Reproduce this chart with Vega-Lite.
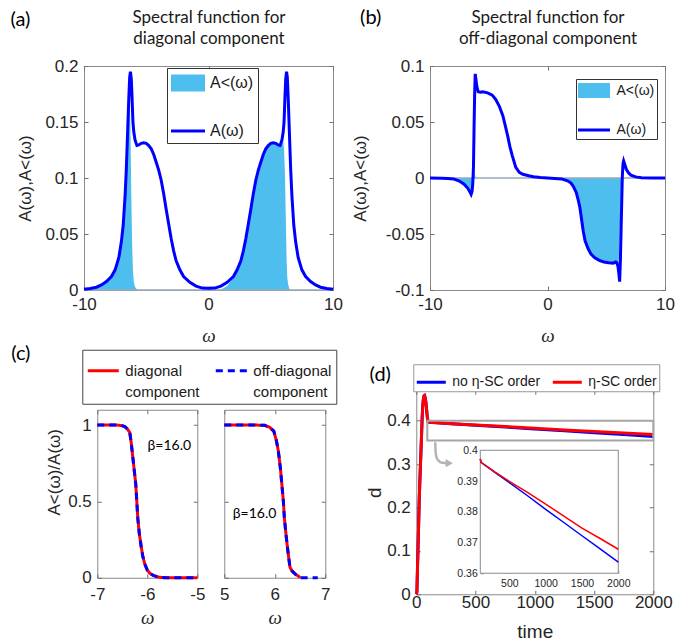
{
"$schema": "https://vega.github.io/schema/vega-lite/v6.json",
"padding": {"left": 10, "top": 7, "right": 0, "bottom": 0},
"background": "white",
"config": {
  "view": {"stroke": "#8a8a8a", "strokeWidth": 1},
  "axis": {"domain": false, "grid": false, "tickColor": "#707070", "tickSize": -4, "tickWidth": 1, "labelFont": "Liberation Sans", "labelFontSize": 17, "labelColor": "#262626", "labelPadding": 10, "labelFlush": false, "titleFont": "Liberation Sans", "titleFontSize": 17, "titleFontWeight": "normal", "titleColor": "#262626"},
  "legend": {"labelFont": "Liberation Sans", "labelColor": "#1a1a1a"},
  "style": {"guide-label": {"lineHeight": 21}}
},
"datasets": {
"sa": [
{"w":-10,"A":0.0006,"Al":0.0006},{"w":-9.5,"A":0.0013,"Al":0.0013},{"w":-9,"A":0.0025,"Al":0.0025},{"w":-8.6,"A":0.0045,"Al":0.0045},{"w":-8.2,"A":0.0075,"Al":0.0075},{"w":-7.8,"A":0.012,"Al":0.012},{"w":-7.5,"A":0.018,"Al":0.018},{"w":-7.2,"A":0.029,"Al":0.029},{"w":-7,"A":0.043,"Al":0.043},{"w":-6.85,"A":0.058,"Al":0.058},{"w":-6.7,"A":0.084,"Al":0.084},{"w":-6.6,"A":0.108,"Al":0.108},{"w":-6.5,"A":0.14,"Al":0.139},{"w":-6.4,"A":0.172,"Al":0.169},{"w":-6.33,"A":0.19,"Al":0.171},{"w":-6.27,"A":0.195,"Al":0.144},{"w":-6.2,"A":0.188,"Al":0.085},{"w":-6.14,"A":0.172,"Al":0.043},{"w":-6.07,"A":0.15,"Al":0.018},{"w":-6,"A":0.141,"Al":0.007},{"w":-5.9,"A":0.134,"Al":0.0027},{"w":-5.75,"A":0.129,"Al":0.0006},{"w":-5.6,"A":0.1295,"Al":0},{"w":-5.4,"A":0.131,"Al":0},{"w":-5.2,"A":0.1315,"Al":0},{"w":-5,"A":0.131,"Al":0},{"w":-4.8,"A":0.129,"Al":0},{"w":-4.6,"A":0.126,"Al":0},{"w":-4.4,"A":0.121,"Al":0},{"w":-4.2,"A":0.114,"Al":0},{"w":-4,"A":0.107,"Al":0},{"w":-3.8,"A":0.098,"Al":0},{"w":-3.6,"A":0.086,"Al":0},{"w":-3.4,"A":0.072,"Al":0},{"w":-3.2,"A":0.059,"Al":0},{"w":-3,"A":0.046,"Al":0},{"w":-2.8,"A":0.035,"Al":0},{"w":-2.6,"A":0.026,"Al":0},{"w":-2.3,"A":0.018,"Al":0},{"w":-2,"A":0.012,"Al":0},{"w":-1.5,"A":0.0068,"Al":0},{"w":-1,"A":0.0035,"Al":0},{"w":-0.5,"A":0.0017,"Al":0},{"w":0,"A":0.0015,"Al":0},{"w":0.5,"A":0.0017,"Al":0},{"w":1,"A":0.0035,"Al":0.0005},{"w":1.5,"A":0.0068,"Al":0.0035},{"w":2,"A":0.012,"Al":0.011},{"w":2.3,"A":0.018,"Al":0.018},{"w":2.6,"A":0.026,"Al":0.026},{"w":2.8,"A":0.035,"Al":0.035},{"w":3,"A":0.046,"Al":0.046},{"w":3.2,"A":0.059,"Al":0.059},{"w":3.4,"A":0.072,"Al":0.072},{"w":3.6,"A":0.086,"Al":0.086},{"w":3.8,"A":0.098,"Al":0.098},{"w":4,"A":0.107,"Al":0.107},{"w":4.2,"A":0.114,"Al":0.114},{"w":4.4,"A":0.121,"Al":0.121},{"w":4.6,"A":0.126,"Al":0.126},{"w":4.8,"A":0.129,"Al":0.129},{"w":5,"A":0.131,"Al":0.131},{"w":5.2,"A":0.1315,"Al":0.1315},{"w":5.4,"A":0.131,"Al":0.131},{"w":5.6,"A":0.1295,"Al":0.1295},{"w":5.75,"A":0.129,"Al":0.129},{"w":5.9,"A":0.134,"Al":0.131},{"w":6,"A":0.141,"Al":0.134},{"w":6.07,"A":0.15,"Al":0.125},{"w":6.14,"A":0.172,"Al":0.105},{"w":6.2,"A":0.188,"Al":0.07},{"w":6.27,"A":0.195,"Al":0.029},{"w":6.33,"A":0.19,"Al":0.011},{"w":6.4,"A":0.172,"Al":0.005},{"w":6.5,"A":0.14,"Al":0.001},{"w":6.6,"A":0.108,"Al":0},{"w":6.7,"A":0.084,"Al":0},{"w":6.85,"A":0.058,"Al":0},{"w":7,"A":0.043,"Al":0},{"w":7.2,"A":0.029,"Al":0},{"w":7.5,"A":0.018,"Al":0},{"w":7.8,"A":0.012,"Al":0},{"w":8.2,"A":0.0075,"Al":0},{"w":8.6,"A":0.0045,"Al":0},{"w":9,"A":0.0025,"Al":0},{"w":9.5,"A":0.0013,"Al":0},{"w":10,"A":0.0006,"Al":0}
],
"sb": [
{"w":-10,"A":0,"Al":0},{"w":-9,"A":-0.0002,"Al":-0.0002},{"w":-8.5,"A":-0.0004,"Al":-0.0004},{"w":-8,"A":-0.0008,"Al":-0.0008},{"w":-7.5,"A":-0.0027,"Al":-0.0027},{"w":-7.1,"A":-0.0055,"Al":-0.0055},{"w":-6.8,"A":-0.009,"Al":-0.009},{"w":-6.6,"A":-0.0125,"Al":-0.0125},{"w":-6.5,"A":-0.0146,"Al":-0.0146},{"w":-6.42,"A":-0.012,"Al":-0.012},{"w":-6.36,"A":-0.005,"Al":-0.0048},{"w":-6.3,"A":0.01,"Al":0.004},{"w":-6.25,"A":0.045,"Al":0.007},{"w":-6.2,"A":0.075,"Al":0.005},{"w":-6.15,"A":0.093,"Al":0.002},{"w":-6.1,"A":0.089,"Al":0},{"w":-6.02,"A":0.082,"Al":0},{"w":-5.9,"A":0.077,"Al":0},{"w":-5.7,"A":0.0765,"Al":0},{"w":-5.5,"A":0.077,"Al":0},{"w":-5.1,"A":0.076,"Al":0},{"w":-4.7,"A":0.074,"Al":0},{"w":-4.4,"A":0.07,"Al":0},{"w":-4.1,"A":0.064,"Al":0},{"w":-3.8,"A":0.0557,"Al":0},{"w":-3.6,"A":0.047,"Al":0},{"w":-3.4,"A":0.038,"Al":0},{"w":-3.2,"A":0.028,"Al":0},{"w":-3,"A":0.02,"Al":0},{"w":-2.7,"A":0.0095,"Al":0},{"w":-2.4,"A":0.005,"Al":0},{"w":-2.1,"A":0.0033,"Al":0},{"w":-1.6,"A":0.002,"Al":0},{"w":-1.2,"A":0.0012,"Al":0},{"w":-0.6,"A":0.0005,"Al":0},{"w":0,"A":0,"Al":0},{"w":0.6,"A":-0.0004,"Al":0},{"w":1.2,"A":-0.0008,"Al":-0.0002},{"w":1.7,"A":-0.0025,"Al":-0.002},{"w":2,"A":-0.0045,"Al":-0.0045},{"w":2.2,"A":-0.0075,"Al":-0.0075},{"w":2.45,"A":-0.013,"Al":-0.013},{"w":2.6,"A":-0.019,"Al":-0.019},{"w":2.75,"A":-0.026,"Al":-0.026},{"w":2.9,"A":-0.037,"Al":-0.037},{"w":3.05,"A":-0.048,"Al":-0.048},{"w":3.2,"A":-0.056,"Al":-0.056},{"w":3.45,"A":-0.063,"Al":-0.063},{"w":3.7,"A":-0.068,"Al":-0.068},{"w":4,"A":-0.071,"Al":-0.071},{"w":4.4,"A":-0.0735,"Al":-0.0735},{"w":4.8,"A":-0.075,"Al":-0.075},{"w":5.2,"A":-0.0757,"Al":-0.0757},{"w":5.6,"A":-0.076,"Al":-0.076},{"w":5.8,"A":-0.075,"Al":-0.075},{"w":5.9,"A":-0.0755,"Al":-0.0755},{"w":6,"A":-0.079,"Al":-0.079},{"w":6.07,"A":-0.085,"Al":-0.072},{"w":6.14,"A":-0.0925,"Al":-0.055},{"w":6.2,"A":-0.075,"Al":-0.03},{"w":6.26,"A":-0.048,"Al":-0.009},{"w":6.32,"A":-0.02,"Al":-0.002},{"w":6.37,"A":0.002,"Al":0},{"w":6.43,"A":0.013,"Al":0},{"w":6.48,"A":0.0153,"Al":0},{"w":6.55,"A":0.013,"Al":0},{"w":6.7,"A":0.008,"Al":0},{"w":6.9,"A":0.0045,"Al":0},{"w":7.1,"A":0.0025,"Al":0},{"w":7.5,"A":0.001,"Al":0},{"w":8,"A":0.0003,"Al":0},{"w":9,"A":0,"Al":0},{"w":10,"A":0,"Al":0}
],
"cl": [
{"w":-7,"diag":1,"off":1},{"w":-6.8,"diag":1,"off":1},{"w":-6.6,"diag":1,"off":1},{"w":-6.5,"diag":0.995,"off":0.995},{"w":-6.45,"diag":0.99,"off":0.99},{"w":-6.4,"diag":0.975,"off":0.975},{"w":-6.35,"diag":0.95,"off":0.95},{"w":-6.32,"diag":0.88,"off":0.88},{"w":-6.29,"diag":0.79,"off":0.79},{"w":-6.26,"diag":0.7,"off":0.7},{"w":-6.23,"diag":0.61,"off":0.61},{"w":-6.21,"diag":0.5,"off":0.5},{"w":-6.19,"diag":0.39,"off":0.39},{"w":-6.16,"diag":0.29,"off":0.29},{"w":-6.12,"diag":0.2,"off":0.2},{"w":-6.09,"diag":0.14,"off":0.14},{"w":-6.05,"diag":0.09,"off":0.09},{"w":-6,"diag":0.05,"off":0.05},{"w":-5.95,"diag":0.03,"off":0.03},{"w":-5.88,"diag":0.015,"off":0.015},{"w":-5.79,"diag":0.005,"off":0.005},{"w":-5.7,"diag":0.001,"off":0.001},{"w":-5.6,"diag":0,"off":0},{"w":-5.4,"diag":0,"off":0},{"w":-5.2,"diag":0,"off":0},{"w":-5,"diag":0,"off":0}
],
"cr": [
{"w":5,"diag":1,"off":1},{"w":5.3,"diag":1,"off":1},{"w":5.6,"diag":1,"off":1},{"w":5.8,"diag":0.998,"off":0.998},{"w":5.9,"diag":0.985,"off":0.985},{"w":5.98,"diag":0.96,"off":0.96},{"w":6.03,"diag":0.9,"off":0.9},{"w":6.07,"diag":0.83,"off":0.83},{"w":6.11,"diag":0.72,"off":0.72},{"w":6.14,"diag":0.61,"off":0.61},{"w":6.17,"diag":0.5,"off":0.5},{"w":6.19,"diag":0.39,"off":0.39},{"w":6.22,"diag":0.29,"off":0.29},{"w":6.25,"diag":0.2,"off":0.2},{"w":6.28,"diag":0.12,"off":0.12},{"w":6.3,"diag":0.07,"off":0.07},{"w":6.34,"diag":0.045,"off":0.045},{"w":6.37,"diag":0.035,"off":0.035},{"w":6.42,"diag":0.02,"off":0.02},{"w":6.47,"diag":0.01,"off":0.01},{"w":6.5,"diag":0,"off":0},{"w":6.6,"off":0},{"w":6.7,"off":0},{"w":6.85,"off":0}
],
"sd": [
{"t":0,"v":0,"s":"no η-SC order"},{"t":5,"v":0.005,"s":"no η-SC order"},{"t":10,"v":0.06,"s":"no η-SC order"},{"t":15,"v":0.11,"s":"no η-SC order"},{"t":20,"v":0.165,"s":"no η-SC order"},{"t":25,"v":0.219,"s":"no η-SC order"},{"t":30,"v":0.26,"s":"no η-SC order"},{"t":40,"v":0.334,"s":"no η-SC order"},{"t":50,"v":0.41,"s":"no η-SC order"},{"t":55,"v":0.435,"s":"no η-SC order"},{"t":60,"v":0.45,"s":"no η-SC order"},{"t":65,"v":0.457,"s":"no η-SC order"},{"t":70,"v":0.458,"s":"no η-SC order"},{"t":75,"v":0.452,"s":"no η-SC order"},{"t":80,"v":0.444,"s":"no η-SC order"},{"t":85,"v":0.432,"s":"no η-SC order"},{"t":90,"v":0.416,"s":"no η-SC order"},{"t":95,"v":0.404,"s":"no η-SC order"},{"t":100,"v":0.3972,"s":"no η-SC order"},{"t":110,"v":0.3961,"s":"no η-SC order"},{"t":300,"v":0.3928,"s":"no η-SC order"},{"t":500,"v":0.3895,"s":"no η-SC order"},{"t":750,"v":0.3852,"s":"no η-SC order"},{"t":1000,"v":0.3808,"s":"no η-SC order"},{"t":1250,"v":0.3765,"s":"no η-SC order"},{"t":1500,"v":0.3722,"s":"no η-SC order"},{"t":1750,"v":0.3679,"s":"no η-SC order"},{"t":2000,"v":0.3636,"s":"no η-SC order"},
{"t":0,"v":0,"s":"η-SC order"},{"t":5,"v":0.005,"s":"η-SC order"},{"t":10,"v":0.06,"s":"η-SC order"},{"t":15,"v":0.11,"s":"η-SC order"},{"t":20,"v":0.165,"s":"η-SC order"},{"t":25,"v":0.219,"s":"η-SC order"},{"t":30,"v":0.26,"s":"η-SC order"},{"t":40,"v":0.334,"s":"η-SC order"},{"t":50,"v":0.41,"s":"η-SC order"},{"t":55,"v":0.435,"s":"η-SC order"},{"t":60,"v":0.45,"s":"η-SC order"},{"t":65,"v":0.457,"s":"η-SC order"},{"t":70,"v":0.458,"s":"η-SC order"},{"t":75,"v":0.452,"s":"η-SC order"},{"t":80,"v":0.444,"s":"η-SC order"},{"t":85,"v":0.432,"s":"η-SC order"},{"t":90,"v":0.416,"s":"η-SC order"},{"t":95,"v":0.404,"s":"η-SC order"},{"t":100,"v":0.3972,"s":"η-SC order"},{"t":110,"v":0.3961,"s":"η-SC order"},{"t":300,"v":0.393,"s":"η-SC order"},{"t":500,"v":0.3899,"s":"η-SC order"},{"t":750,"v":0.3863,"s":"η-SC order"},{"t":1000,"v":0.3825,"s":"η-SC order"},{"t":1250,"v":0.3786,"s":"η-SC order"},{"t":1500,"v":0.3747,"s":"η-SC order"},{"t":1750,"v":0.3713,"s":"η-SC order"},{"t":2000,"v":0.3678,"s":"η-SC order"}
],
"arrow": [{"t":160,"v":0.35},{"t":162,"v":0.333},{"t":167,"v":0.32},{"t":178,"v":0.311},{"t":195,"v":0.306},{"t":220,"v":0.303},{"t":262,"v":0.302}],
"head": [{"t":278,"v":0.302}],
"one": [{"k":1}]
},
"resolve": {"scale": {"color": "independent", "strokeDash": "independent", "strokeWidth": "independent"}},
"bounds": "full",
"center": true,
"spacing": -3,
"vconcat": [
{
 "hconcat": [
  {
   "width": 249, "height": 224,
   "data": {"name": "sa"},
   "resolve": {"axis": {"x": "independent", "y": "independent"}},
   "layer": [
    {"mark": {"type": "area", "opacity": 1},
     "encoding": {
      "x": {"field": "w", "type": "quantitative", "scale": {"domain": [-10, 10], "nice": false}, "axis": {"orient": "bottom", "values": [-10, 0, 10], "format": "~r", "labelExpr": "replace(datum.label,'−','-')", "title": "ω", "titleFont": "Liberation Serif", "titleFontStyle": "italic", "titleFontSize": 19, "titlePadding": 14}},
      "y": {"field": "Al", "type": "quantitative", "scale": {"domain": [0, 0.2], "nice": false}, "axis": {"orient": "left", "values": [0, 0.05, 0.1, 0.15, 0.2], "format": "~r", "title": "A(ω),A˂(ω)", "titlePadding": 10}},
      "y2": {"datum": 0},
      "color": {"datum": "A˂(ω)", "scale": {"domain": ["A˂(ω)", "A(ω)"], "range": ["#4DBEEE", "#0000FF"]},
       "legend": {"orient": "none", "legendX": 83, "legendY": 2, "title": null, "labelFontSize": 16, "labelOffset": 11, "symbolType": "M-8,0H8", "symbolSize": 18.0625, "symbolOffset": 6, "rowPadding": 6, "padding": 4, "strokeColor": "#333333", "fillColor": "#ffffff"}},
      "strokeWidth": {"datum": "A˂(ω)", "scale": {"domain": ["A˂(ω)", "A(ω)"], "range": [17, 3]},
       "legend": {"orient": "none", "legendX": 83, "legendY": 2, "title": null, "labelFontSize": 16, "labelOffset": 11, "symbolType": "M-8,0H8", "symbolSize": 18.0625, "symbolOffset": 6, "rowPadding": 6, "padding": 4, "strokeColor": "#333333", "fillColor": "#ffffff"}}
     }},
    {"data": {"name": "one"}, "mark": {"type": "rule", "color": "#9AABBA", "strokeWidth": 1.5}, "encoding": {"y": {"datum": 0, "axis": null}}},
    {"mark": {"type": "line"},
     "encoding": {
      "x": {"field": "w", "type": "quantitative", "scale": {"domain": [-10, 10], "nice": false}, "axis": {"orient": "top", "values": [-10, 0, 10], "labels": false, "title": ["Spectral function for", "diagonal component"], "titleFont": "Lato", "titleFontSize": 17, "titleLineHeight": 21, "titleColor": "#1a1a1a", "titlePadding": 18}},
      "y": {"field": "A", "type": "quantitative", "scale": {"domain": [0, 0.2], "nice": false}, "axis": {"orient": "right", "values": [0, 0.05, 0.1, 0.15, 0.2], "labels": false, "title": null}},
      "color": {"datum": "A(ω)"},
      "strokeWidth": {"datum": "A(ω)"}
     }},
    {"data": {"name": "one"}, "mark": {"type": "text", "align": "center", "baseline": "middle", "font": "Lato", "fontSize": 20, "color": "#000000"},
     "encoding": {"x": {"datum": -15.1, "axis": null}, "y": {"datum": 0.2407, "axis": null}, "text": {"value": "(a)"}}}
   ]
  },
  {
   "width": 235, "height": 224,
   "data": {"name": "sb"},
   "resolve": {"axis": {"x": "independent", "y": "independent"}},
   "layer": [
    {"mark": {"type": "area", "opacity": 1},
     "encoding": {
      "x": {"field": "w", "type": "quantitative", "scale": {"domain": [-10, 10], "nice": false}, "axis": {"orient": "bottom", "values": [-10, 0, 10], "format": "~r", "labelExpr": "replace(datum.label,'−','-')", "title": "ω", "titleFont": "Liberation Serif", "titleFontStyle": "italic", "titleFontSize": 19, "titlePadding": 14}},
      "y": {"field": "Al", "type": "quantitative", "scale": {"domain": [-0.1, 0.1], "nice": false}, "axis": {"orient": "left", "values": [-0.1, -0.05, 0, 0.05, 0.1], "format": "~r", "labelExpr": "replace(datum.label,'−','-')", "title": "A(ω),A˂(ω)", "titlePadding": 16}},
      "y2": {"datum": 0},
      "color": {"datum": "A˂(ω)", "scale": {"domain": ["A˂(ω)", "A(ω)"], "range": ["#4DBEEE", "#0000FF"]},
       "legend": {"orient": "none", "legendX": 146, "legendY": 13, "title": null, "labelFontSize": 14, "labelOffset": 13, "symbolType": "M-8,0H8", "symbolSize": 16, "symbolOffset": 6.5, "rowPadding": 2, "padding": 2, "strokeColor": "#333333", "fillColor": "#ffffff"}},
      "strokeWidth": {"datum": "A˂(ω)", "scale": {"domain": ["A˂(ω)", "A(ω)"], "range": [15, 3]},
       "legend": {"orient": "none", "legendX": 146, "legendY": 13, "title": null, "labelFontSize": 14, "labelOffset": 13, "symbolType": "M-8,0H8", "symbolSize": 16, "symbolOffset": 6.5, "rowPadding": 2, "padding": 2, "strokeColor": "#333333", "fillColor": "#ffffff"}}
     }},
    {"data": {"name": "one"}, "mark": {"type": "rule", "color": "#9AABBA", "strokeWidth": 1.5}, "encoding": {"y": {"datum": 0, "axis": null}}},
    {"mark": {"type": "line"},
     "encoding": {
      "x": {"field": "w", "type": "quantitative", "scale": {"domain": [-10, 10], "nice": false}, "axis": {"orient": "top", "values": [-10, 0, 10], "labels": false, "title": ["Spectral function for", "off-diagonal component"], "titleFont": "Lato", "titleFontSize": 17, "titleLineHeight": 21, "titleColor": "#1a1a1a", "titlePadding": 18}},
      "y": {"field": "A", "type": "quantitative", "scale": {"domain": [-0.1, 0.1], "nice": false}, "axis": {"orient": "right", "values": [-0.1, -0.05, 0, 0.05, 0.1], "labels": false, "title": " ", "titleFontSize": 10, "titlePadding": 10}},
      "color": {"datum": "A(ω)"},
      "strokeWidth": {"datum": "A(ω)"}
     }},
    {"data": {"name": "one"}, "mark": {"type": "text", "align": "center", "baseline": "middle", "font": "Lato", "fontSize": 20, "color": "#000000"},
     "encoding": {"x": {"datum": -15.04, "axis": null}, "y": {"datum": 0.1425, "axis": null}, "text": {"value": "(b)"}}}
   ]
  }
 ],
 "spacing": 97,
 "bounds": "flush",
 "resolve": {"scale": {"color": "independent", "strokeDash": "independent", "strokeWidth": "independent"}}
},
{
 "hconcat": [
  {
   "hconcat": [
    {
     "width": 100, "height": 168,
     "data": {"name": "cl"},
     "transform": [{"fold": ["diag", "off"], "as": ["key", "r"]}],
     "resolve": {"axis": {"x": "independent", "y": "independent"}},
     "layer": [
      {"mark": {"type": "line", "strokeWidth": 3},
       "encoding": {
        "x": {"field": "w", "type": "quantitative", "scale": {"domain": [-7, -5], "nice": false}, "axis": {"orient": "bottom", "values": [-7, -6, -5], "format": "~r", "labelExpr": "replace(datum.label,'−','-')", "labelPadding": 13, "title": "ω", "titleFont": "Liberation Serif", "titleFontStyle": "italic", "titleFontSize": 19, "titlePadding": 6}},
        "y": {"field": "r", "type": "quantitative", "scale": {"domain": [0, 1.1], "nice": false}, "axis": {"orient": "left", "values": [0, 0.5, 1], "format": "~r", "title": "A˂(ω)/A(ω)", "titleX": -34, "titleY": 62}},
        "color": {"field": "key", "type": "nominal", "scale": {"domain": ["diag", "off"], "range": ["#FF0000", "#0000FF"]},
          "legend": {"orient": "none", "legendX": -15, "legendY": -60, "direction": "horizontal", "title": null, "labelFontSize": 15, "labelOffset": 5, "symbolType": "stroke", "symbolSize": 961, "symbolStrokeWidth": 3, "columnPadding": 9, "padding": 4, "strokeColor": "#444444", "fillColor": "#ffffff", "labelExpr": "datum.label == 'diag' ? ['diagonal','component'] : ['off-diagonal','component']", "encode": {"labels": {"lineHeight": {"value": 21}, "dy": {"value": -10.5}}}}},
        "strokeDash": {"field": "key", "type": "nominal", "scale": {"domain": ["diag", "off"], "range": [[1, 0], [7, 5]]},
          "legend": {"orient": "none", "legendX": -15, "legendY": -60, "direction": "horizontal", "title": null, "labelFontSize": 15, "labelOffset": 5, "symbolType": "stroke", "symbolSize": 961, "symbolStrokeWidth": 3, "columnPadding": 9, "padding": 4, "strokeColor": "#444444", "fillColor": "#ffffff", "labelExpr": "datum.label == 'diag' ? ['diagonal','component'] : ['off-diagonal','component']", "encode": {"labels": {"lineHeight": {"value": 21}, "dy": {"value": -10.5}}}}}
       }},
      {"data": {"name": "one"}, "mark": {"type": "text", "align": "center", "baseline": "middle", "font": "Lato", "fontSize": 14, "color": "#000000"},
       "encoding": {"x": {"datum": -5.56, "axis": {"orient": "top", "values": [-7, -6, -5], "labels": false, "title": null}}, "y": {"datum": 0.863, "axis": {"orient": "right", "values": [0, 0.5, 1], "labels": false, "title": null}}, "text": {"value": "β=16.0"}}},
      {"data": {"name": "one"}, "mark": {"type": "text", "align": "center", "baseline": "middle", "font": "Lato", "fontSize": 20, "color": "#000000"},
       "encoding": {"x": {"datum": -8.53, "axis": null}, "y": {"datum": 1.464, "axis": null}, "text": {"value": "(c)"}}}
     ]
    },
    {
     "width": 101, "height": 168,
     "data": {"name": "cr"},
     "transform": [{"fold": ["diag", "off"], "as": ["key", "r"]}],
     "resolve": {"axis": {"x": "independent", "y": "independent"}},
     "layer": [
      {"mark": {"type": "line", "strokeWidth": 3},
       "encoding": {
        "x": {"field": "w", "type": "quantitative", "scale": {"domain": [5, 7], "nice": false}, "axis": {"orient": "bottom", "values": [5, 6, 7], "format": "~r", "labelPadding": 13, "title": "ω", "titleFont": "Liberation Serif", "titleFontStyle": "italic", "titleFontSize": 19, "titlePadding": 6}},
        "y": {"field": "r", "type": "quantitative", "scale": {"domain": [0, 1.1], "nice": false}, "axis": {"orient": "left", "values": [0, 0.5, 1], "labels": false, "title": null}},
        "color": {"field": "key", "type": "nominal", "scale": {"domain": ["diag", "off"], "range": ["#FF0000", "#0000FF"]}, "legend": null},
        "strokeDash": {"field": "key", "type": "nominal", "scale": {"domain": ["diag", "off"], "range": [[1, 0], [7, 5]]}, "legend": null}
       }},
      {"data": {"name": "one"}, "mark": {"type": "text", "align": "center", "baseline": "middle", "font": "Lato", "fontSize": 14, "color": "#000000"},
       "encoding": {"x": {"datum": 5.6, "axis": {"orient": "top", "values": [5, 6, 7], "labels": false, "title": null}}, "y": {"datum": 0.418, "axis": {"orient": "right", "values": [0, 0.5, 1], "labels": false, "title": null}}, "text": {"value": "β=16.0"}}}
     ]
    }
   ],
   "spacing": 27,
   "bounds": "flush",
   "resolve": {"scale": {"color": "independent", "strokeDash": "independent"}}
  },
  {
   "width": 237, "height": 204,
   "resolve": {"scale": {"x": "independent", "y": "independent"}},
   "layer": [
    {
     "resolve": {"axis": {"x": "independent", "y": "independent"}},
     "layer": [
      {"data": {"name": "sd"}, "mark": {"type": "line", "strokeWidth": 3},
       "encoding": {
        "x": {"field": "t", "type": "quantitative", "scale": {"domain": [0, 2000], "nice": false}, "axis": {"orient": "bottom", "values": [0, 500, 1000, 1500, 2000], "format": "d", "labelPadding": 4, "title": ["time", " "], "titleFontSize": 19, "titleLineHeight": 6, "titlePadding": 12}},
        "y": {"field": "v", "type": "quantitative", "scale": {"domain": [0, 0.47], "nice": false}, "axis": {"orient": "left", "values": [0, 0.1, 0.2, 0.3, 0.4], "format": "~r", "title": "d", "titleFontSize": 19, "titlePadding": 2}},
        "color": {"field": "s", "type": "nominal", "scale": {"domain": ["no η-SC order", "η-SC order"], "range": ["#0000FF", "#FF0000"]},
         "legend": {"orient": "none", "legendX": -3, "legendY": -26, "direction": "horizontal", "title": null, "labelFontSize": 14, "labelOffset": 5, "symbolType": "stroke", "symbolSize": 841, "symbolStrokeWidth": 3, "columnPadding": 6, "padding": 2, "strokeColor": "#999999", "fillColor": "#ffffff"}}
       }},
      {"data": {"name": "one"}, "mark": {"type": "rect", "fill": "transparent", "stroke": "#A6A6A6", "strokeWidth": 2},
       "encoding": {
        "x": {"datum": 93, "scale": {"domain": [0, 2000], "nice": false}, "axis": {"orient": "top", "values": [0, 500, 1000, 1500, 2000], "labels": false, "title": null}},
        "x2": {"datum": 2000},
        "y": {"datum": 0.354, "scale": {"domain": [0, 0.47], "nice": false}, "axis": {"orient": "right", "values": [0, 0.1, 0.2, 0.3, 0.4], "labels": false, "title": null}},
        "y2": {"datum": 0.4}
       }},
      {"data": {"name": "arrow"}, "mark": {"type": "line", "color": "#B3B3B3", "strokeWidth": 2.5, "interpolate": "monotone"},
       "encoding": {"x": {"field": "t", "type": "quantitative", "axis": null}, "y": {"field": "v", "type": "quantitative", "axis": null}}},
      {"data": {"name": "head"}, "mark": {"type": "point", "shape": "triangle-right", "filled": true, "color": "#B3B3B3", "size": 70, "opacity": 1},
       "encoding": {"x": {"field": "t", "type": "quantitative", "axis": null}, "y": {"field": "v", "type": "quantitative", "axis": null}}},
      {"data": {"name": "one"}, "mark": {"type": "text", "align": "center", "baseline": "middle", "font": "Lato", "fontSize": 20, "color": "#000000"},
       "encoding": {"x": {"datum": -304, "axis": null}, "y": {"datum": 0.506, "axis": null}, "text": {"value": "(d)"}}}
     ]
    },
    {
     "layer": [
      {"data": {"name": "one"}, "mark": {"type": "rect", "fill": "#ffffff", "stroke": "#8a8a8a", "strokeWidth": 1},
       "encoding": {
        "x": {"datum": 100, "type": "quantitative", "scale": {"domain": [100, 2000], "range": [64, 202], "nice": false}, "axis": {"orient": "bottom", "offset": -21, "values": [500, 1000, 1500, 2000], "format": "d", "labelFontSize": 10.5, "tickSize": -3, "labelPadding": 8, "title": null}},
        "x2": {"datum": 2000},
        "y": {"datum": 0.36, "type": "quantitative", "scale": {"domain": [0.36, 0.4], "range": [183, 60], "nice": false}, "axis": {"orient": "left", "offset": -64, "values": [0.36, 0.37, 0.38, 0.39, 0.4], "format": "~r", "labelFontSize": 10.5, "tickSize": -3, "labelPadding": 6, "title": null}},
        "y2": {"datum": 0.4}
       }},
      {"data": {"name": "sd"}, "transform": [{"filter": "datum.t >= 100"}], "mark": {"type": "line", "strokeWidth": 1.5},
       "encoding": {
        "x": {"field": "t", "type": "quantitative", "scale": {"domain": [100, 2000], "range": [64, 202], "nice": false}, "axis": {"orient": "bottom", "offset": -21, "values": [500, 1000, 1500, 2000], "format": "d", "labelFontSize": 10.5, "tickSize": -3, "labelPadding": 8, "title": null}},
        "y": {"field": "v", "type": "quantitative", "scale": {"domain": [0.36, 0.4], "range": [183, 60], "nice": false}, "axis": {"orient": "left", "offset": -64, "values": [0.36, 0.37, 0.38, 0.39, 0.4], "format": "~r", "labelFontSize": 10.5, "tickSize": -3, "labelPadding": 6, "title": null}},
        "color": {"field": "s", "type": "nominal"}
       }}
     ]
    }
   ]
  }
 ],
 "spacing": 27,
 "bounds": "full",
 "center": true,
 "resolve": {"scale": {"color": "independent", "strokeDash": "independent"}}
}
]
}
